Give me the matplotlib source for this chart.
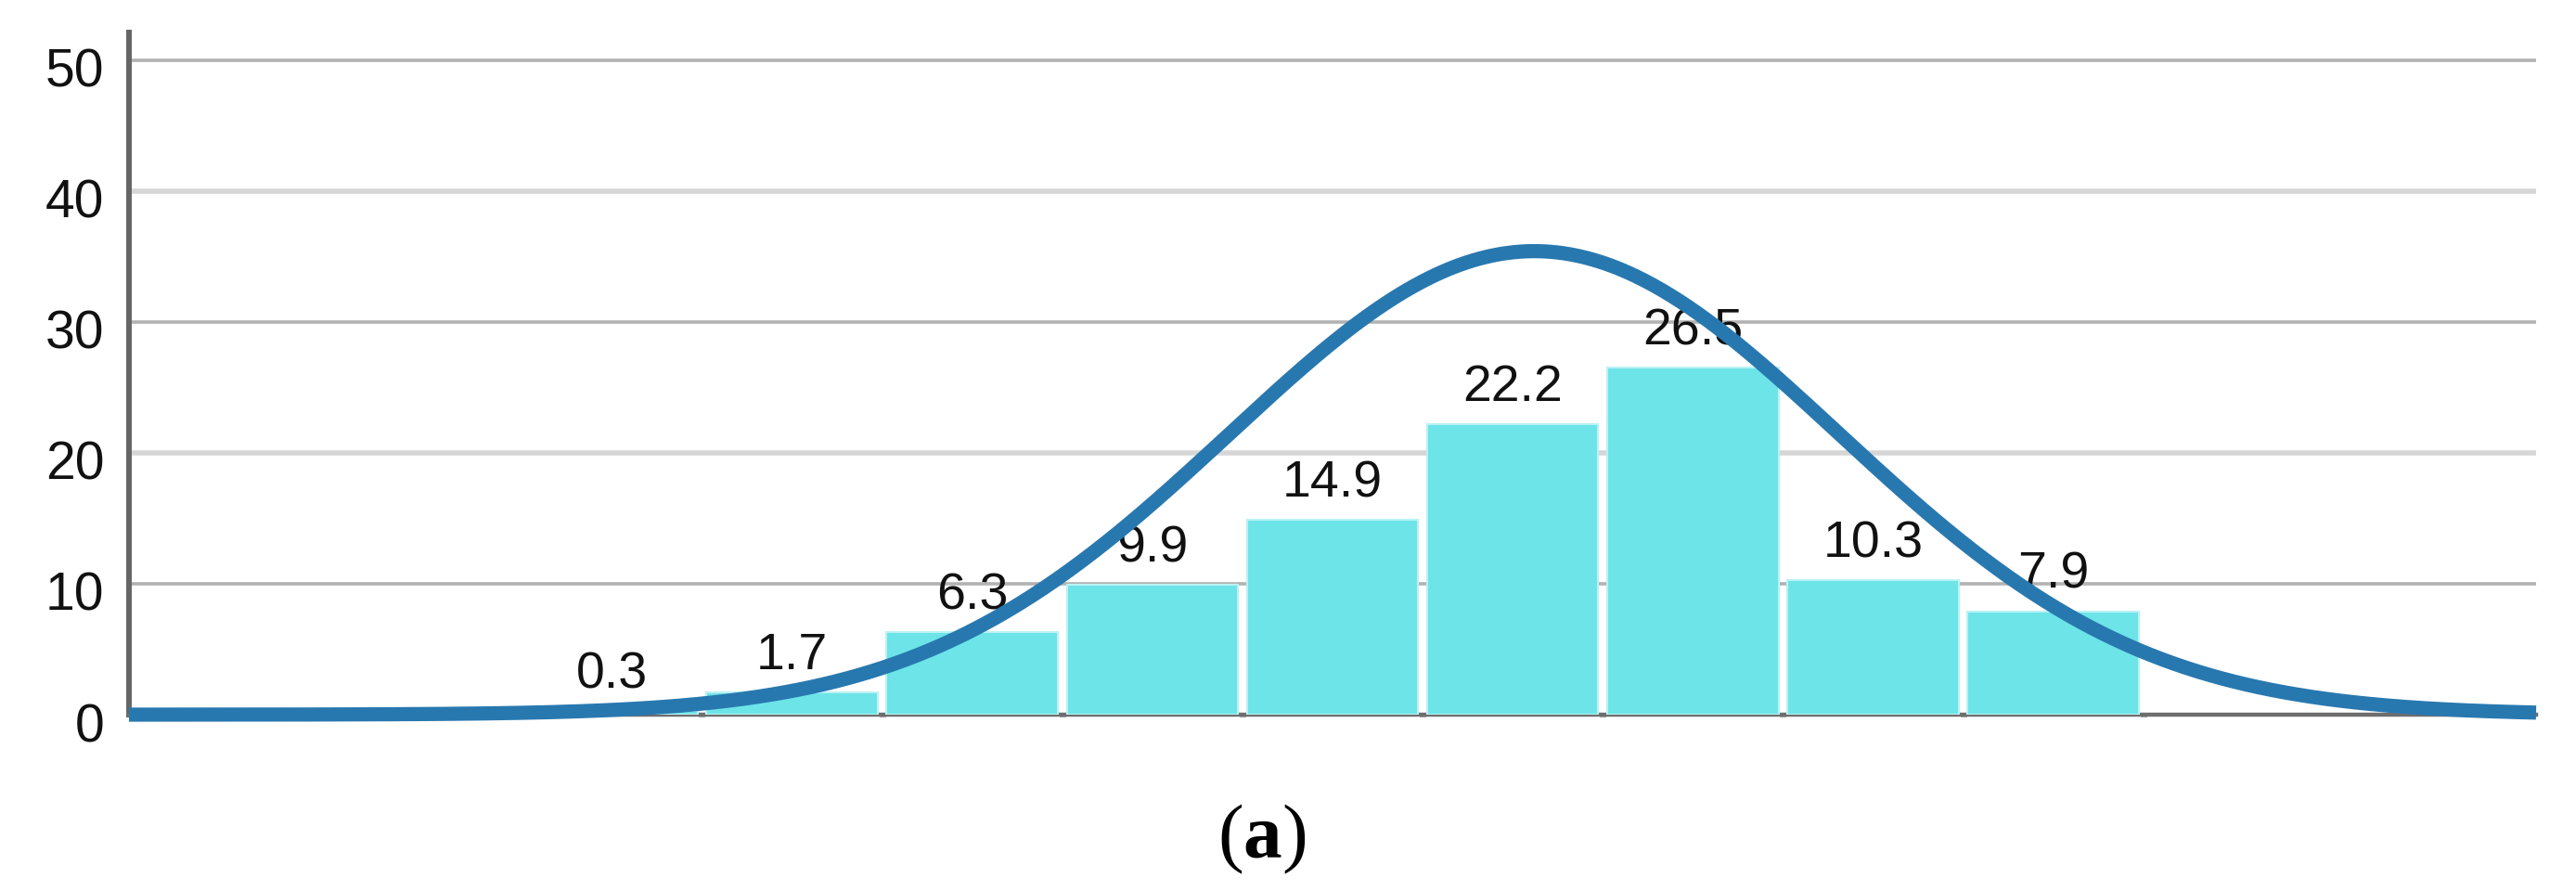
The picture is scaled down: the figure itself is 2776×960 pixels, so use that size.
#!/usr/bin/env python3

import numpy as np
import matplotlib
matplotlib.use("Agg")
import matplotlib.pyplot as plt
from matplotlib.transforms import ScaledTranslation

# percentage in each bin (left to right)
bin_values = [0.3, 1.7, 6.3, 9.9, 14.9, 22.2, 26.5, 10.3, 7.9]
bin_left = [0, 1, 2, 3, 4, 5, 6, 7, 8]

# fitted normal curve
curve_mean = 5.62
curve_sd = 1.69
curve_peak = 35.4

y_ticks = [0, 10, 20, 30, 40, 50]
caption = r"($\mathbf{a}$)"

BAR_COLOR = "#6ce4e8"
BAR_EDGE = "#b9f2f4"
CURVE_COLOR = "#2878b0"

XMIN, XMAX = -2.18, 11.18
YMAX = 52.1

plt.rcParams["mathtext.fontset"] = "custom"
plt.rcParams["mathtext.rm"] = "Liberation Serif"
plt.rcParams["mathtext.bf"] = "Liberation Serif:bold"

fig = plt.figure(figsize=(27.76, 9.6), dpi=100)
ax = fig.add_axes([139 / 2776, 1 - 770 / 960, (2733 - 139) / 2776, 735 / 960])

centers = np.array(bin_left) + 0.5
ax.bar(centers, bin_values, width=0.95, color=BAR_COLOR, edgecolor=BAR_EDGE,
       linewidth=1.5, zorder=3)

for c, v in zip(centers, bin_values):
    ax.text(c, v + 1.75, f"{v:.1f}", ha="center", va="baseline",
            fontsize=40, family="Liberation Sans", color="#111111", zorder=4)

xs = np.linspace(XMIN, XMAX, 800)
ys = curve_peak * np.exp(-0.5 * ((xs - curve_mean) / curve_sd) ** 2)
ax.plot(xs, ys, color=CURVE_COLOR, linewidth=11, solid_capstyle="butt",
        zorder=5, clip_on=False)

ax.set_xlim(XMIN, XMAX)
ax.set_ylim(0, YMAX)

ax.set_yticks(y_ticks)
ax.set_yticklabels([str(t) for t in y_ticks])
ax.tick_params(axis="y", length=0, pad=19, labelsize=41, labelcolor="#111111")
for lbl in ax.get_yticklabels():
    lbl.set_family("Liberation Sans")
    lbl.set_transform(lbl.get_transform() + ScaledTranslation(0, -0.08, fig.dpi_scale_trans))

ax.set_xticks(np.arange(0, 10))
ax.set_xticklabels([])
ax.tick_params(axis="x", length=3, width=5, direction="inout", color="#555555")

ax.grid(axis="y", color="#b2b2b2", linewidth=2.6, zorder=0)
ax.set_axisbelow(True)
for gl, t in zip(ax.yaxis.get_gridlines(), y_ticks):
    if t in (20, 40):
        gl.set_color("#d6d6d6")
        gl.set_linewidth(4.0)
    if t == 0:
        gl.set_visible(False)

for side in ("top", "right"):
    ax.spines[side].set_visible(False)
ax.spines["left"].set_color("#666666")
ax.spines["left"].set_linewidth(4.3)
ax.spines["bottom"].set_color("#6e6e6e")
ax.spines["bottom"].set_linewidth(3.2)

fig.text(0.49, 1 - 924 / 960, caption, ha="center", va="baseline",
         fontsize=60, family="Liberation Serif")

fig.savefig("out.png", dpi=100)
